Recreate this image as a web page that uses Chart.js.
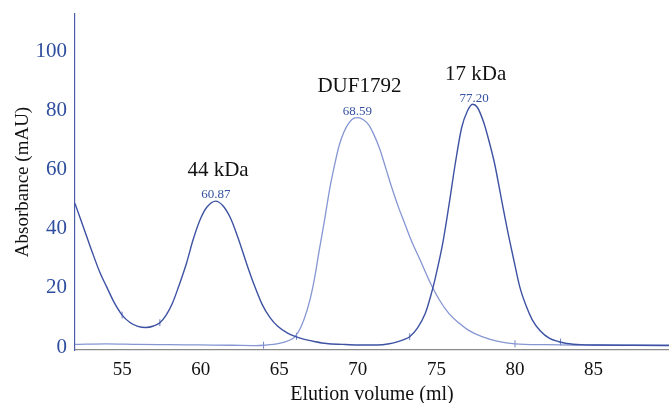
<!DOCTYPE html>
<html>
<head>
<meta charset="utf-8">
<script src="https://cdn.jsdelivr.net/npm/chart.js@4.4.1/dist/chart.umd.min.js"></script>
<style>
  html, body { margin: 0; padding: 0; background: #fff; overflow: hidden; }
  #wrap { width: 674px; height: 403px; }
</style>
</head>
<body>
<div id="wrap"><canvas id="grafico"></canvas></div>
<script>
// Padrões 44 kDa + 17 kDa (traço escuro)
const padraoX = [52.0, 52.3, 52.7, 53.1, 53.6, 54.0, 54.5, 55.0, 55.5, 56.0, 56.5, 57.0, 57.4, 57.8, 58.2, 58.6, 59.1, 59.5, 60.0, 60.4, 60.95, 61.4, 61.9, 62.4, 62.9, 63.4, 63.9, 64.4, 64.9, 65.5, 66.0, 66.6, 67.3, 68.0, 69.0, 70.0, 71.2, 72.0, 72.6, 73.0, 73.3, 73.8, 74.3, 74.7, 75.0, 75.4, 75.8, 76.2, 76.6, 76.95, 77.3, 77.6, 78.0, 78.4, 78.7, 79.1, 79.5, 79.9, 80.3, 80.7, 81.1, 81.6, 82.2, 82.8, 83.3, 84.2, 85.4, 87.5, 89.8];
const padraoY = [48.5, 44.0, 38.0, 32.0, 25.0, 20.5, 15.0, 10.8, 8.3, 7.0, 6.6, 7.1, 8.2, 10.8, 14.8, 20.5, 28.4, 36.0, 43.5, 47.3, 49.3, 47.8, 43.5, 36.5, 28.5, 21.0, 14.5, 10.0, 7.0, 4.8, 3.6, 2.6, 1.8, 1.2, 0.9, 0.7, 0.7, 1.1, 1.9, 2.7, 3.5, 6.5, 11.5, 18.5, 25.0, 35.0, 48.0, 62.0, 74.0, 79.5, 82.0, 81.0, 76.0, 68.5, 62.0, 51.0, 40.0, 30.0, 20.4, 14.0, 9.2, 5.5, 2.9, 1.8, 1.2, 0.8, 0.7, 0.6, 0.5];

// DUF1792 (traço claro)
const dufX = [52.0, 54.0, 56.0, 58.0, 60.0, 62.0, 63.5, 64.0, 65.0, 65.6, 66.0, 66.4, 66.9, 67.2, 67.55, 67.9, 68.2, 68.5, 68.8, 69.1, 69.46, 69.75, 70.0, 70.35, 70.7, 71.0, 71.4, 71.8, 72.2, 72.6, 73.0, 73.4, 74.0, 74.6, 75.2, 75.8, 76.46, 77.0, 77.9, 79.0, 80.0, 82.0, 85.0, 89.8];
const dufY = [0.9, 1.1, 0.9, 0.8, 0.7, 0.6, 0.5, 0.6, 1.2, 2.2, 3.5, 7.0, 14.9, 22.0, 32.9, 43.5, 53.2, 61.0, 67.9, 72.5, 75.9, 77.3, 77.5, 76.8, 75.0, 72.0, 66.8, 60.0, 53.2, 47.0, 41.5, 36.0, 29.0, 21.8, 15.8, 11.3, 8.0, 5.8, 3.5, 1.8, 1.1, 0.8, 0.6, 0.6];

// Marcas de fracção sobre os traços
const marcaX = [55.0, 57.4, 64.0, 66.1, 73.3, 80.0, 82.9];
const marcaY = [10.8, 8.2, 0.6, 3.6, 3.5, 1.1, 1.7];

const ticksX = [55, 60, 65, 70, 75, 80, 85];
const ticksY = [0, 20, 40, 60, 80, 100];

// Anotações dos picos
const nomesPico = ['44 kDa', 'DUF1792', '17 kDa'];
const nomesX = [61.1, 70.1, 77.5];
const nomesY = [59.7, 88.1, 92.2];
const valoresPico = ['60.87', '68.59', '77.20'];
const valoresX = [60.97, 69.97, 77.4];
const valoresY = [51.5, 79.7, 84.0];

const serif = '"Liberation Serif", "DejaVu Serif", serif';

const anotacoes = {
  id: 'anotacoes',
  afterDatasetsDraw(chart) {
    const { ctx, scales: { x, y } } = chart;
    ctx.save();
    ctx.textAlign = 'center';
    ctx.textBaseline = 'middle';
    ctx.fillStyle = '#111';
    ctx.font = '21px ' + serif;
    nomesPico.forEach((t, i) => ctx.fillText(t, x.getPixelForValue(nomesX[i]), y.getPixelForValue(nomesY[i])));
    ctx.fillStyle = '#3551a0';
    ctx.font = '13px ' + serif;
    valoresPico.forEach((t, i) => ctx.fillText(t, x.getPixelForValue(valoresX[i]), y.getPixelForValue(valoresY[i])));
    ctx.restore();
  }
};

const pares = (xs, ys) => xs.map((v, i) => ({ x: v, y: ys[i] }));

new Chart(document.getElementById('grafico'), {
  type: 'line',
  data: {
    datasets: [
      {
        label: 'Padrões',
        data: pares(padraoX, padraoY),
        borderColor: '#3d52a3',
        borderWidth: 1.4,
        pointRadius: 0,
        cubicInterpolationMode: 'monotone'
      },
      {
        label: 'DUF1792',
        data: pares(dufX, dufY),
        borderColor: '#8596d3',
        borderWidth: 1.3,
        pointRadius: 0,
        cubicInterpolationMode: 'monotone'
      },
      {
        type: 'scatter',
        label: 'Fracções',
        data: pares(marcaX, marcaY),
        pointStyle: 'line',
        rotation: 90,
        pointRadius: 3.5,
        borderColor: '#6f80c4',
        borderWidth: 1,
        showLine: false
      }
    ]
  },
  options: {
    responsive: true,
    maintainAspectRatio: false,
    animation: false,
    layout: { padding: { top: 14, right: 0, left: 0, bottom: 0 } },
    plugins: { legend: { display: false }, tooltip: { enabled: false } },
    scales: {
      x: {
        type: 'linear',
        min: 52,
        max: 89.8,
        afterBuildTicks: s => { s.ticks = ticksX.map(v => ({ value: v })); },
        afterFit: s => { s.height = 53; s.paddingLeft = 0; s.paddingRight = 0; },
        grid: { display: false, drawTicks: false },
        border: { color: '#8a8a8a', width: 1.2 },
        ticks: { color: '#111', font: { family: serif, size: 19 }, padding: 9, maxRotation: 0 },
        title: { display: true, text: 'Elution volume (ml)', color: '#111', font: { family: serif, size: 20, lineHeight: 1 }, padding: { top: 0, bottom: -2 } }
      },
      y: {
        min: -1,
        max: 112.5,
        afterBuildTicks: s => { s.ticks = ticksY.map(v => ({ value: v })); },
        afterFit: s => { s.width = 75; s.paddingTop = 0; s.paddingBottom = 0; },
        grid: { display: false, drawTicks: false },
        border: { color: '#4a5ea8', width: 1.2 },
        ticks: { color: '#2f4e9e', font: { family: serif, size: 21 }, padding: 8 },
        title: { display: true, text: 'Absorbance (mAU)', color: '#111', font: { family: serif, size: 19 }, padding: { top: 12, bottom: 0 } }
      }
    }
  },
  plugins: [anotacoes]
});
</script>
</body>
</html>
